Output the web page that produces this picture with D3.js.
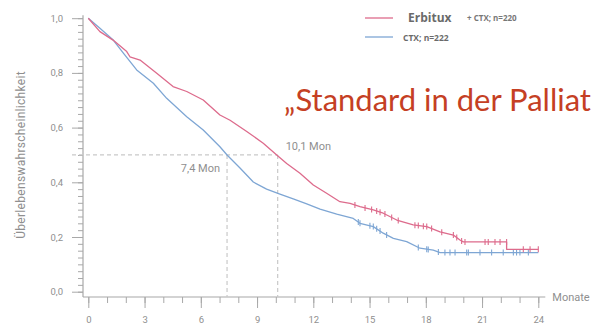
<!DOCTYPE html>
<html><head><meta charset="utf-8">
<script src="https://cdn.jsdelivr.net/npm/d3@7"></script>
<style>
html,body{margin:0;padding:0;background:#fff;}
svg{display:block;}
</style></head>
<body>
<svg id="c" width="594" height="325"></svg>
<script>
// ---- Data ----
const erbituxT = [0,0.62,1.32,2.05,2.22,2.76,3.65,4.52,5.25,6.13,7.02,7.56,8.45,9.33,10.05,10.58,11.29,12.0,12.71,13.42,13.96,14.49,15.2,15.73,16.45,17.33,18.05,18.76,19.47,19.82,20.0,22.31,22.31,24.0];
const erbituxS = [1.0,0.951,0.920,0.878,0.859,0.847,0.799,0.750,0.732,0.701,0.646,0.627,0.586,0.543,0.500,0.469,0.433,0.390,0.360,0.329,0.323,0.311,0.299,0.287,0.262,0.244,0.238,0.219,0.207,0.189,0.182,0.182,0.155,0.155];
const ctxT = [0,0.62,1.33,1.87,2.58,3.47,4.18,5.25,6.13,7.02,7.4,8.09,8.8,9.51,10.22,10.93,11.65,12.36,13.25,14.13,14.49,15.2,15.73,16.27,16.98,17.69,18.4,18.76,24.0];
const ctxS = [1.0,0.963,0.920,0.872,0.811,0.762,0.707,0.640,0.591,0.530,0.500,0.452,0.401,0.375,0.357,0.339,0.321,0.302,0.284,0.268,0.250,0.238,0.214,0.195,0.183,0.159,0.152,0.143,0.143];
const erbituxCensor = [14.22,14.76,15.11,15.38,15.56,15.82,16.18,16.53,17.42,17.6,17.87,18.05,18.31,18.85,19.47,19.65,19.91,20.09,21.16,21.33,21.69,21.96,22.31,23.2,23.56,24.0];
const ctxCensor = [14.4,14.49,15.02,15.2,15.38,15.56,15.91,17.6,18.05,18.13,18.67,19.02,19.29,19.56,20.18,20.27,20.89,21.51,22.13,22.67,22.84,23.02,23.47];
const xMajor = [0,3,6,9,12,15,18,21,24];
const xMinor = d3.range(0,25,1);
const yMajor = [0,0.2,0.4,0.6,0.8,1.0];
const yMinor = d3.range(0,1.0001,0.025);
const medians = [7.4, 10.1];
const medianLabels = ["7,4 Mon","10,1 Mon"];
const legendMain = ["Erbitux", ""];
const legendSub = ["+ CTX; n=220", "CTX; n=222"];

const RED = "#dd6b8c", BLUE = "#7ea6d4", AX = "#a8a8a8", TXT = "#8f8f8f";
const svg = d3.select("#c");
const x = d3.scaleLinear().domain([0,24]).range([88.3,538.3]);
const y = d3.scaleLinear().domain([0,1]).range([291.7,18.2]);
const axisX0 = 83, axisY0 = 297;
const fmt = d => d3.format(".1f")(d).replace(".",",");

// y axis
const gy = svg.append("g").attr("transform",`translate(${axisX0},0)`);
gy.call(d3.axisLeft(y).tickValues(yMinor).tickSize(5).tickFormat(""))
  .call(g=>g.select(".domain").remove());
gy.append("g").call(d3.axisLeft(y).tickValues(yMajor).tickSize(11).tickPadding(9).tickFormat(fmt))
  .call(g=>g.select(".domain").remove())
  .call(g=>g.selectAll("text").attr("fill",TXT).attr("font-size",9.5).attr("font-family","Roboto, sans-serif"));
gy.selectAll("line").attr("stroke",AX);
gy.append("line").attr("x1",0).attr("x2",0).attr("y1",y(1)-3).attr("y2",axisY0).attr("stroke",AX).attr("stroke-width",1.2);

// x axis
const gx = svg.append("g").attr("transform",`translate(0,${axisY0})`);
gx.call(d3.axisBottom(x).tickValues(xMinor).tickSize(6).tickFormat(""))
  .call(g=>g.select(".domain").remove());
gx.append("g").call(d3.axisBottom(x).tickValues(xMajor).tickSize(11).tickPadding(8).tickFormat(d3.format("d")))
  .call(g=>g.select(".domain").remove())
  .call(g=>g.selectAll("text").attr("fill",TXT).attr("font-size",9.5).attr("font-family","Roboto, sans-serif"));
gx.selectAll("line").attr("stroke",AX);
gx.append("line").attr("x1",axisX0).attr("x2",x(24)+7).attr("y1",0).attr("y2",0).attr("stroke",AX).attr("stroke-width",1.2);
svg.append("text").attr("x",x(24)+14).attr("y",axisY0+4).text("Monate")
  .attr("fill",TXT).attr("font-size",11).attr("font-family","Roboto, sans-serif");

// y label
svg.append("text").attr("transform",`translate(25,${y(0.5)}) rotate(-90)`)
  .attr("text-anchor","middle").text("Überlebenswahrscheinlichkeit")
  .attr("fill",TXT).attr("font-size",12).attr("letter-spacing",0.3).attr("font-family","Roboto, sans-serif");

// median dashed lines
const dash = {stroke:"#c9c9c9","stroke-width":1.2,"stroke-dasharray":"4,3"};
const hl = svg.append("line").attr("x1",axisX0-11).attr("x2",x(d3.max(medians))).attr("y1",y(0.5)).attr("y2",y(0.5));
Object.entries(dash).forEach(([k,v])=>hl.attr(k,v));
medians.forEach(m=>{
  const l = svg.append("line").attr("x1",x(m)).attr("x2",x(m)).attr("y1",y(0.5)).attr("y2",axisY0);
  Object.entries(dash).forEach(([k,v])=>l.attr(k,v));
});
svg.append("text").attr("x",x(medians[0])-7).attr("y",y(0.5)+17).attr("text-anchor","end").text(medianLabels[0])
  .attr("fill",TXT).attr("font-size",11).attr("font-family","Roboto, sans-serif");
svg.append("text").attr("x",x(medians[1])+8).attr("y",y(0.5)-5).text(medianLabels[1])
  .attr("fill",TXT).attr("font-size",11).attr("font-family","Roboto, sans-serif");

// curves
const line = d3.line().x(d=>x(d[0])).y(d=>y(d[1]));
const interp = (T,S,t)=>{ for(let i=1;i<T.length;i++){ if(t<=T[i]){ const a=T[i-1],b=T[i]; if(b===a) return S[i]; const f=(t-a)/(b-a); return S[i-1]+f*(S[i]-S[i-1]);} } return S[S.length-1]; };
const series = [
  {T:ctxT,S:ctxS,C:ctxCensor,color:BLUE},
  {T:erbituxT,S:erbituxS,C:erbituxCensor,color:RED}
];
series.forEach(s=>{
  svg.append("path").datum(s.T.map((t,i)=>[t,s.S[i]])).attr("d",line)
    .attr("fill","none").attr("stroke",s.color).attr("stroke-width",1.3).attr("stroke-linejoin","round");
  svg.append("g").selectAll("line").data(s.C).join("line")
    .attr("x1",d=>x(d)).attr("x2",d=>x(d))
    .attr("y1",d=>y(interp(s.T,s.S,d))-3).attr("y2",d=>y(interp(s.T,s.S,d))+3)
    .attr("stroke",s.color).attr("stroke-width",1.1);
});

// legend
const lg = [{c:RED,yy:18},{c:BLUE,yy:37}];
lg.forEach((l,i)=>{
  svg.append("line").attr("x1",365).attr("x2",393).attr("y1",l.yy).attr("y2",l.yy).attr("stroke",l.c).attr("stroke-width",1.3);
});
svg.append("text").attr("x",408).attr("y",22).text(legendMain[0])
  .attr("fill","#6a6a6a").attr("font-size",12).attr("font-weight","bold").attr("font-family","Open Sans, sans-serif");
svg.append("text").attr("x",467).attr("y",21).text(legendSub[0])
  .attr("fill","#777").attr("font-size",8).attr("font-weight","bold").attr("font-family","Open Sans, sans-serif");
svg.append("text").attr("x",403).attr("y",40.5).text(legendSub[1])
  .attr("fill","#6a6a6a").attr("font-size",8.5).attr("font-weight","bold").attr("font-family","Open Sans, sans-serif");

// title
svg.append("text").attr("x",284).attr("y",111).text("„Standard in der Palliat")
  .attr("fill","#c53f24").attr("font-size",31).attr("font-family","Lato, sans-serif");
</script>
</body></html>
